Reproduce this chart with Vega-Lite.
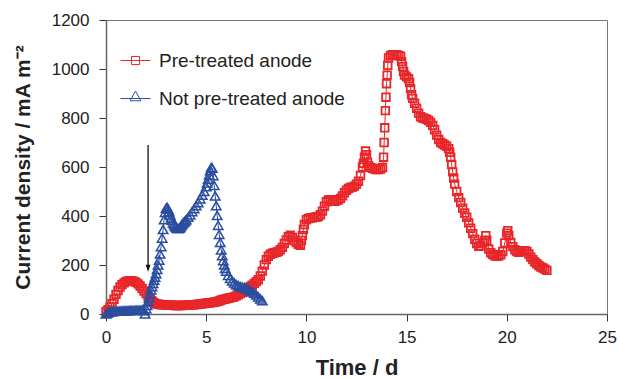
{
  "$schema": "https://vega.github.io/schema/vega-lite/v6.json",
  "width": 501,
  "height": 294,
  "autosize": {"type": "none"},
  "padding": {"left": 106, "top": 20, "right": 12, "bottom": 64},
  "background": "white",
  "config": {
    "font": "Liberation Sans",
    "view": {"stroke": "#777", "strokeWidth": 1},
    "axis": {
      "grid": false,
      "domainColor": "#666",
      "domainWidth": 1.5,
      "tickColor": "#333",
      "tickSize": 7,
      "labelColor": "#222",
      "titleColor": "#222",
      "labelFont": "Liberation Sans",
      "titleFont": "Liberation Sans",
      "labelFontSize": 17,
      "titleFontSize": 21,
      "titleFontWeight": "bold",
      "labelFlush": false
    }
  },
  "datasets": {
    "red": [
      {"day":0,"cd":10},{"day":0.1,"cd":18},{"day":0.2,"cd":28},{"day":0.3,"cd":42},{"day":0.4,"cd":60},{"day":0.5,"cd":80},{"day":0.6,"cd":96},{"day":0.7,"cd":110},{"day":0.8,"cd":120},{"day":0.9,"cd":127},
      {"day":1.0,"cd":132},{"day":1.1,"cd":135},{"day":1.2,"cd":136},{"day":1.3,"cd":135},{"day":1.4,"cd":133},{"day":1.5,"cd":129},{"day":1.6,"cd":123},{"day":1.7,"cd":114},{"day":1.8,"cd":104},{"day":1.9,"cd":94},
      {"day":2.0,"cd":84},{"day":2.1,"cd":72},{"day":2.2,"cd":62},{"day":2.3,"cd":53},{"day":2.4,"cd":46},{"day":2.5,"cd":42},{"day":2.6,"cd":40},{"day":2.7,"cd":39},{"day":2.8,"cd":38},{"day":2.9,"cd":38},
      {"day":3.0,"cd":37},{"day":3.1,"cd":37},{"day":3.2,"cd":36},{"day":3.3,"cd":36},{"day":3.4,"cd":35},{"day":3.5,"cd":35},{"day":3.6,"cd":35},{"day":3.7,"cd":35},{"day":3.8,"cd":35},{"day":3.9,"cd":36},
      {"day":4.0,"cd":36},{"day":4.1,"cd":37},{"day":4.2,"cd":37},{"day":4.3,"cd":38},{"day":4.4,"cd":38},{"day":4.5,"cd":39},{"day":4.6,"cd":40},{"day":4.7,"cd":41},{"day":4.8,"cd":42},{"day":4.9,"cd":43},
      {"day":5.0,"cd":44},{"day":5.1,"cd":45},{"day":5.2,"cd":46},{"day":5.3,"cd":47},{"day":5.4,"cd":48},{"day":5.5,"cd":50},{"day":5.6,"cd":52},{"day":5.7,"cd":55},{"day":5.8,"cd":58},{"day":5.9,"cd":60},
      {"day":6.0,"cd":62},{"day":6.1,"cd":64},{"day":6.2,"cd":66},{"day":6.3,"cd":68},{"day":6.4,"cd":70},{"day":6.5,"cd":74},{"day":6.6,"cd":78},{"day":6.7,"cd":83},{"day":6.8,"cd":88},{"day":6.9,"cd":94},
      {"day":7.0,"cd":100},{"day":7.1,"cd":106},{"day":7.2,"cd":112},{"day":7.3,"cd":118},{"day":7.4,"cd":125},{"day":7.5,"cd":132},{"day":7.6,"cd":140},{"day":7.7,"cd":155},{"day":7.8,"cd":175},{"day":7.9,"cd":200},
      {"day":8.0,"cd":222},{"day":8.1,"cd":236},{"day":8.2,"cd":244},{"day":8.3,"cd":248},{"day":8.4,"cd":250},{"day":8.5,"cd":252},{"day":8.6,"cd":255},{"day":8.7,"cd":262},{"day":8.8,"cd":272},{"day":8.9,"cd":288},
      {"day":9.0,"cd":302},{"day":9.1,"cd":315},{"day":9.2,"cd":322},{"day":9.3,"cd":312},{"day":9.4,"cd":300},{"day":9.5,"cd":292},{"day":9.6,"cd":285},{"day":9.7,"cd":280},{"day":9.75,"cd":300},{"day":9.8,"cd":320},{"day":9.85,"cd":345},{"day":9.9,"cd":365},
      {"day":10.0,"cd":385},{"day":10.1,"cd":390},{"day":10.2,"cd":392},{"day":10.3,"cd":393},{"day":10.4,"cd":395},{"day":10.5,"cd":396},{"day":10.6,"cd":398},{"day":10.7,"cd":405},{"day":10.8,"cd":420},{"day":10.9,"cd":440},
      {"day":11.0,"cd":458},{"day":11.1,"cd":465},{"day":11.2,"cd":466},{"day":11.3,"cd":462},{"day":11.4,"cd":460},{"day":11.5,"cd":462},{"day":11.6,"cd":466},{"day":11.7,"cd":472},{"day":11.8,"cd":482},{"day":11.9,"cd":495},
      {"day":12.0,"cd":505},{"day":12.1,"cd":512},{"day":12.2,"cd":516},{"day":12.3,"cd":518},{"day":12.4,"cd":522},{"day":12.5,"cd":530},{"day":12.6,"cd":542},{"day":12.7,"cd":565},{"day":12.8,"cd":600},{"day":12.85,"cd":615},{"day":12.9,"cd":640},{"day":12.95,"cd":665},
      {"day":13.0,"cd":650},{"day":13.05,"cd":620},{"day":13.1,"cd":605},{"day":13.2,"cd":598},{"day":13.3,"cd":595},{"day":13.4,"cd":592},{"day":13.5,"cd":590},{"day":13.6,"cd":590},{"day":13.7,"cd":592},{"day":13.8,"cd":598},
      {"day":13.85,"cd":640},{"day":13.88,"cd":700},{"day":13.91,"cd":760},{"day":13.94,"cd":830},{"day":13.97,"cd":885},{"day":14.0,"cd":940},{"day":14.03,"cd":975},{"day":14.06,"cd":1015},{"day":14.1,"cd":1045},
      {"day":14.2,"cd":1055},{"day":14.3,"cd":1058},{"day":14.4,"cd":1056},{"day":14.5,"cd":1058},{"day":14.6,"cd":1055},{"day":14.7,"cd":1052},{"day":14.75,"cd":1030},{"day":14.8,"cd":1010},{"day":14.85,"cd":990},{"day":14.9,"cd":975},
      {"day":15.0,"cd":968},{"day":15.1,"cd":960},{"day":15.15,"cd":945},{"day":15.2,"cd":920},{"day":15.25,"cd":895},{"day":15.3,"cd":880},{"day":15.4,"cd":860},{"day":15.5,"cd":840},{"day":15.6,"cd":820},{"day":15.7,"cd":805},{"day":15.8,"cd":800},{"day":15.9,"cd":798},
      {"day":16.0,"cd":795},{"day":16.1,"cd":790},{"day":16.2,"cd":782},{"day":16.3,"cd":770},{"day":16.4,"cd":752},{"day":16.5,"cd":730},{"day":16.6,"cd":712},{"day":16.7,"cd":700},{"day":16.8,"cd":695},{"day":16.9,"cd":690},
      {"day":17.0,"cd":685},{"day":17.1,"cd":675},{"day":17.15,"cd":660},{"day":17.2,"cd":640},{"day":17.25,"cd":610},{"day":17.3,"cd":580},{"day":17.35,"cd":555},{"day":17.4,"cd":530},{"day":17.5,"cd":500},{"day":17.6,"cd":475},{"day":17.7,"cd":455},{"day":17.8,"cd":432},{"day":17.9,"cd":412},
      {"day":18.0,"cd":395},{"day":18.1,"cd":372},{"day":18.2,"cd":350},{"day":18.3,"cd":328},{"day":18.4,"cd":305},{"day":18.5,"cd":288},{"day":18.6,"cd":276},{"day":18.7,"cd":278},{"day":18.8,"cd":290},{"day":18.9,"cd":300},{"day":18.95,"cd":320},
      {"day":19.0,"cd":300},{"day":19.1,"cd":265},{"day":19.2,"cd":250},{"day":19.3,"cd":243},{"day":19.4,"cd":238},{"day":19.5,"cd":236},{"day":19.6,"cd":238},{"day":19.7,"cd":242},{"day":19.8,"cd":255},{"day":19.9,"cd":290},
      {"day":20.0,"cd":330},{"day":20.05,"cd":340},{"day":20.1,"cd":320},{"day":20.2,"cd":292},{"day":20.3,"cd":275},{"day":20.4,"cd":262},{"day":20.5,"cd":255},{"day":20.6,"cd":252},{"day":20.7,"cd":255},{"day":20.8,"cd":258},{"day":20.9,"cd":258},
      {"day":21.0,"cd":255},{"day":21.1,"cd":245},{"day":21.2,"cd":232},{"day":21.3,"cd":222},{"day":21.4,"cd":212},{"day":21.5,"cd":205},{"day":21.6,"cd":198},{"day":21.7,"cd":192},{"day":21.8,"cd":188},{"day":21.9,"cd":183},{"day":22.0,"cd":178}
    ],
    "blue": [
      {"day":0,"cd":0},{"day":0.05,"cd":3},{"day":0.1,"cd":6},{"day":0.2,"cd":9},{"day":0.3,"cd":10},{"day":0.4,"cd":11},{"day":0.5,"cd":12},{"day":0.6,"cd":12},{"day":0.7,"cd":13},{"day":0.8,"cd":13},{"day":0.9,"cd":14},
      {"day":1.0,"cd":14},{"day":1.1,"cd":14},{"day":1.2,"cd":15},{"day":1.3,"cd":15},{"day":1.4,"cd":15},{"day":1.5,"cd":16},{"day":1.6,"cd":16},{"day":1.7,"cd":16},{"day":1.8,"cd":17},{"day":1.9,"cd":14},{"day":1.95,"cd":0},
      {"day":2.0,"cd":22},{"day":2.05,"cd":35},{"day":2.1,"cd":50},{"day":2.15,"cd":65},{"day":2.2,"cd":82},{"day":2.25,"cd":98},{"day":2.3,"cd":112},{"day":2.35,"cd":125},{"day":2.4,"cd":138},{"day":2.45,"cd":150},
      {"day":2.5,"cd":165},{"day":2.55,"cd":182},{"day":2.6,"cd":200},{"day":2.65,"cd":220},{"day":2.7,"cd":245},{"day":2.75,"cd":275},{"day":2.8,"cd":310},{"day":2.85,"cd":345},{"day":2.9,"cd":385},{"day":2.95,"cd":415},
      {"day":3.0,"cd":432},{"day":3.05,"cd":435},{"day":3.1,"cd":428},{"day":3.15,"cd":418},{"day":3.2,"cd":405},{"day":3.25,"cd":392},{"day":3.3,"cd":382},{"day":3.35,"cd":372},{"day":3.4,"cd":365},{"day":3.45,"cd":358},
      {"day":3.5,"cd":354},{"day":3.55,"cd":350},{"day":3.6,"cd":348},{"day":3.65,"cd":350},{"day":3.7,"cd":354},{"day":3.75,"cd":360},{"day":3.8,"cd":366},{"day":3.85,"cd":372},{"day":3.9,"cd":376},{"day":3.95,"cd":380},
      {"day":4.0,"cd":385},{"day":4.1,"cd":395},{"day":4.2,"cd":405},{"day":4.3,"cd":418},{"day":4.4,"cd":430},{"day":4.5,"cd":442},{"day":4.6,"cd":455},{"day":4.7,"cd":470},{"day":4.8,"cd":485},{"day":4.9,"cd":500},
      {"day":5.0,"cd":520},{"day":5.05,"cd":535},{"day":5.1,"cd":550},{"day":5.15,"cd":568},{"day":5.2,"cd":585},{"day":5.25,"cd":598},{"day":5.3,"cd":595},{"day":5.35,"cd":565},{"day":5.4,"cd":525},{"day":5.45,"cd":482},
      {"day":5.5,"cd":442},{"day":5.55,"cd":402},{"day":5.6,"cd":362},{"day":5.65,"cd":325},{"day":5.7,"cd":292},{"day":5.75,"cd":262},{"day":5.8,"cd":238},{"day":5.85,"cd":218},{"day":5.9,"cd":200},{"day":5.95,"cd":186},
      {"day":6.0,"cd":175},{"day":6.1,"cd":158},{"day":6.2,"cd":145},{"day":6.3,"cd":135},{"day":6.4,"cd":127},{"day":6.5,"cd":120},{"day":6.6,"cd":116},{"day":6.7,"cd":112},{"day":6.8,"cd":110},{"day":6.9,"cd":108},
      {"day":7.0,"cd":105},{"day":7.1,"cd":100},{"day":7.2,"cd":95},{"day":7.3,"cd":90},{"day":7.4,"cd":85},{"day":7.5,"cd":78},{"day":7.6,"cd":70},{"day":7.7,"cd":62},{"day":7.8,"cd":55}
    ],
    "legend": [{"series": "Pre-treated anode"}, {"series": "Not pre-treated anode"}],
    "arrow": [{"day": 2.1, "cd": 690, "cd2": 185}],
    "head": [{"day": 2.1, "cd": 187}]
  },
  "encoding": {
    "x": {
      "field": "day", "type": "quantitative",
      "scale": {"domain": [0, 25], "nice": false, "zero": true, "padding": 0},
      "axis": {"title": "Time / d", "values": [0, 5, 10, 15, 20, 25], "format": "d", "labelPadding": 8, "titlePadding": 12, "titleFontSize": 22}
    },
    "y": {
      "field": "cd", "type": "quantitative",
      "scale": {"domain": [0, 1200], "nice": false, "padding": 0},
      "axis": {"title": "Current density / mA m⁻²", "values": [0, 200, 400, 600, 800, 1000, 1200], "format": "d", "labelPadding": 10, "titlePadding": 18}
    }
  },
  "layer": [
    {
      "data": {"name": "red"},
      "mark": {"type": "line", "color": "#E8262A", "strokeWidth": 1, "clip": false}
    },
    {
      "data": {"name": "red"},
      "mark": {"type": "point", "shape": "square", "filled": false, "color": "#E8262A", "size": 58, "strokeWidth": 1.8, "opacity": 1, "clip": false}
    },
    {
      "data": {"name": "blue"},
      "mark": {"type": "line", "color": "#2B4DA0", "strokeWidth": 1, "clip": false}
    },
    {
      "data": {"name": "blue"},
      "mark": {"type": "point", "shape": "triangle-up", "filled": false, "color": "#2B4DA0", "size": 90, "strokeWidth": 1.5, "opacity": 1, "clip": false}
    },
    {
      "data": {"name": "legend"},
      "mark": {"type": "point", "filled": false, "strokeWidth": 1, "opacity": 1},
      "encoding": {
        "color": {"field": "series", "type": "nominal",
          "scale": {"domain": ["Pre-treated anode", "Not pre-treated anode"], "range": ["#E8262A", "#2B4DA0"]},
          "legend": {"orient": "none", "legendX": 14, "legendY": 25, "title": null, "symbolSize": 900, "symbolStrokeWidth": 1, "labelFontSize": 19, "labelOffset": 8, "labelLimit": 400, "rowPadding": 12, "labelColor": "#222", "padding": 0, "labelFont": "Liberation Sans", "symbolOpacity": 1}
        },
        "shape": {"field": "series", "type": "nominal",
          "scale": {"domain": ["Pre-treated anode", "Not pre-treated anode"], "range": ["M-1,0H1M-0.27,-0.27H0.27V0.27H-0.27Z", "M-1,0H1M0,-0.5L0.36,0.15H-0.36Z"]},
          "legend": {"orient": "none", "legendX": 14, "legendY": 25, "title": null, "symbolSize": 900, "symbolStrokeWidth": 1, "labelFontSize": 19, "labelOffset": 8, "labelLimit": 400, "rowPadding": 12, "labelColor": "#222", "padding": 0, "labelFont": "Liberation Sans", "symbolOpacity": 1}
        }
      }
    },
    {
      "data": {"name": "arrow"},
      "mark": {"type": "rule", "color": "#111", "strokeWidth": 1.3},
      "encoding": {"y2": {"field": "cd2"}}
    },
    {
      "data": {"name": "head"},
      "mark": {"type": "point", "filled": true, "color": "#111", "size": 49, "shape": "M0,1L-0.7,-1L0.7,-1Z", "opacity": 1}
    }
  ]
}
